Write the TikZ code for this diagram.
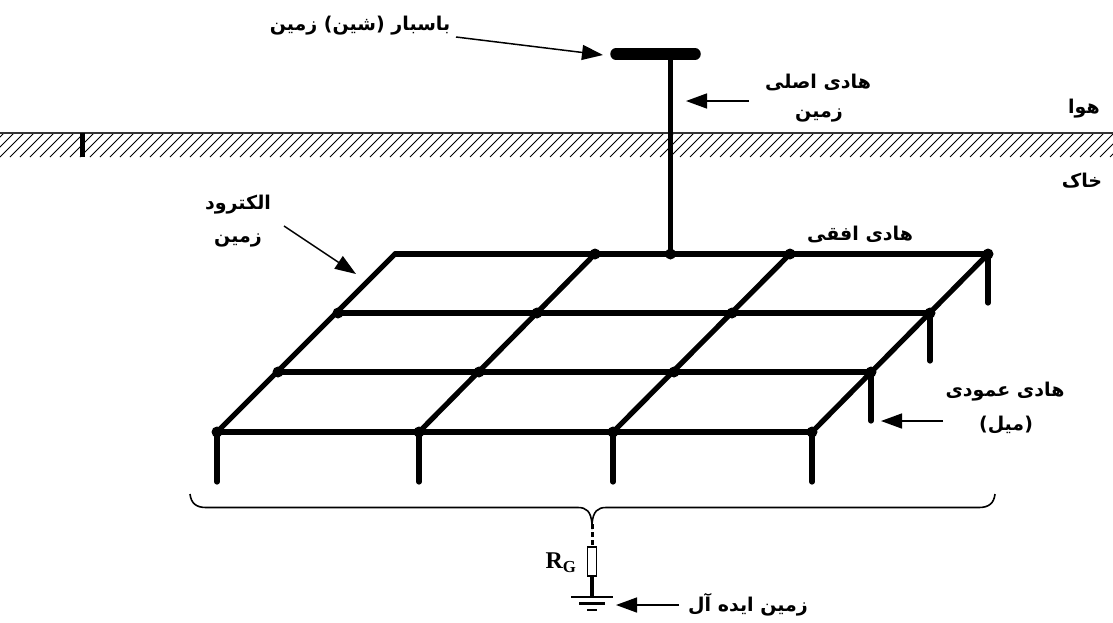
\documentclass[tikz,border=0pt]{standalone}
\usepackage{fontspec}
\usetikzlibrary{arrows.meta}
\TeXXeTstate=1
\setmainfont{Liberation Serif}
\newfontfamily\arabicfont[Script=Arabic]{DejaVu Sans}
\tikzset{
  grid line/.style={line width=5.2pt,line cap=round,black},
  pointer/.style={line width=1.5pt,-{Triangle[length=21pt,width=15pt]}},
  dot/.style={circle,fill=black,inner sep=0pt,minimum size=11pt},
  fa/.style={inner sep=0pt,font=\arabicfont\fontsize{19}{22}\selectfont\bfseries},
}
\newcommand{\fatext}[1]{\beginR #1\endR}
\begin{document}
\begin{tikzpicture}[x=1pt,y=-1pt]
\useasboundingbox (0,0) rectangle (1113,622);
% soil band
\begin{scope}
\clip (0,133) rectangle (1113,157);
\foreach \x in {-30,-20,...,1130} \draw[line width=.8pt,black] (\x,157) -- (\x+24,133);
\end{scope}
\draw[line width=1.2pt,black!80] (0,133) -- (1113,133);
\fill (79.5,133) rectangle (85,157);
% grid corners and junctions
\foreach \n/\x/\y in {a1/395/254,a2/595/254,a3/670.5/254,a4/790/254,a5/988/254,
  b1/338/313,b2/537/313,b3/732/313,b4/930/313,
  c1/278/372,c2/479/372,c3/674/372,c4/871/372,
  d1/217/432,d2/419/432,d3/613/432,d4/812/432}
  \coordinate (\n) at (\x,\y);
\draw[grid line] (a1)--(a5) (b1)--(b4) (c1)--(c4) (d1)--(d4);
\draw[grid line] (a1)--(d1) (a2)--(d2) (a4)--(d3) (a5)--(d4);
\foreach \n in {a2,a3,a4,a5,b1,b2,b3,b4,c1,c2,c3,c4,d1,d2,d3,d4}
  \node[dot] at (\n) {};
% vertical rods
\foreach \n/\x/\y in {r1/217/482,r2/419/482,r3/613/482,r4/812/482,r5/988/303,r6/930/361,r7/871/421}
  \coordinate (\n) at (\x,\y);
\draw[grid line] (d1)--(r1) (d2)--(r2) (d3)--(r3) (d4)--(r4) (a5)--(r5) (b4)--(r6) (c4)--(r7);
% busbar and main conductor
\coordinate (busL) at (616,54); \coordinate (busR) at (695,54); \coordinate (busT) at (670.5,54);
\draw[line width=11.5pt,line cap=round] (busL) -- (busR);
\draw[line width=5.5pt] (busT) -- (a3);
% labels
\node[fa] (lbus) at (360,26) {\fatext{باسبار (شین) زمین}};
\node[fa] (lmain1) at (818,82) {\fatext{هادی اصلی}};
\node[fa] (lmain2) at (819,115) {\fatext{زمین}};
\node[fa] (lair) at (1084,109) {\fatext{هوا}};
\node[fa] (lsoil) at (1082,181) {\fatext{خاک}};
\node[fa] (lel1) at (238,205) {\fatext{الکترود}};
\node[fa] (lel2) at (238,240) {\fatext{زمین}};
\node[fa] (lh) at (860,234) {\fatext{هادی افقی}};
\node[fa] (lv1) at (1005,392) {\fatext{هادی عمودی}};
\node[fa] (lv2) at (1006,425) {\fatext{(میل)}};
\node[fa] (lg) at (748,605) {\fatext{زمین ایده آل}};
\node[inner sep=0pt,font=\fontsize{24}{26}\selectfont\bfseries] (lr) at (561,563) {R\textsubscript{G}};
% pointers
\coordinate (p1s) at (456,37); \coordinate (p1e) at (603,55);
\coordinate (p2s) at (749,101); \coordinate (p2e) at (686,101);
\coordinate (p3s) at (284,226); \coordinate (p3e) at (356,274);
\coordinate (p4s) at (943,421); \coordinate (p4e) at (881,421);
\coordinate (p5s) at (679,605); \coordinate (p5e) at (616,605);
\draw[pointer] (p1s)--(p1e);
\draw[pointer] (p2s)--(p2e);
\draw[pointer] (p3s)--(p3e);
\draw[pointer] (p4s)--(p4e);
\draw[pointer] (p5s)--(p5e);
% brace
\coordinate (bl) at (190,494); \coordinate (br) at (995,494); \coordinate (bt) at (592,524);
\draw[line width=1.6pt] (bl) .. controls (191,503) and (196,507.5) .. (206,507.5)
  -- (578,507.5) .. controls (586,507.5) and (591,511) .. (bt)
  .. controls (593,511) and (598,507.5) .. (606,507.5)
  -- (979,507.5) .. controls (989,507.5) and (994,503) .. (br);
% resistor and earth
\node[draw,line width=1.3pt,minimum width=8.5pt,minimum height=29pt,inner sep=0pt] (res) at (592,561.5) {};
\coordinate (g1) at (592,597);
\draw[line width=3pt,dash pattern=on 5pt off 3pt] (bt) -- (res.north);
\draw[line width=3.2pt] (res.south) -- (g1);
\coordinate (g1l) at (571,597); \coordinate (g1r) at (613,597);
\coordinate (g2l) at (579,603.5); \coordinate (g2r) at (605,603.5);
\coordinate (g3l) at (587,610); \coordinate (g3r) at (597,610);
\draw[line width=2.6pt] (g1l)--(g1r) (g2l)--(g2r) (g3l)--(g3r);
\end{tikzpicture}
\end{document}
